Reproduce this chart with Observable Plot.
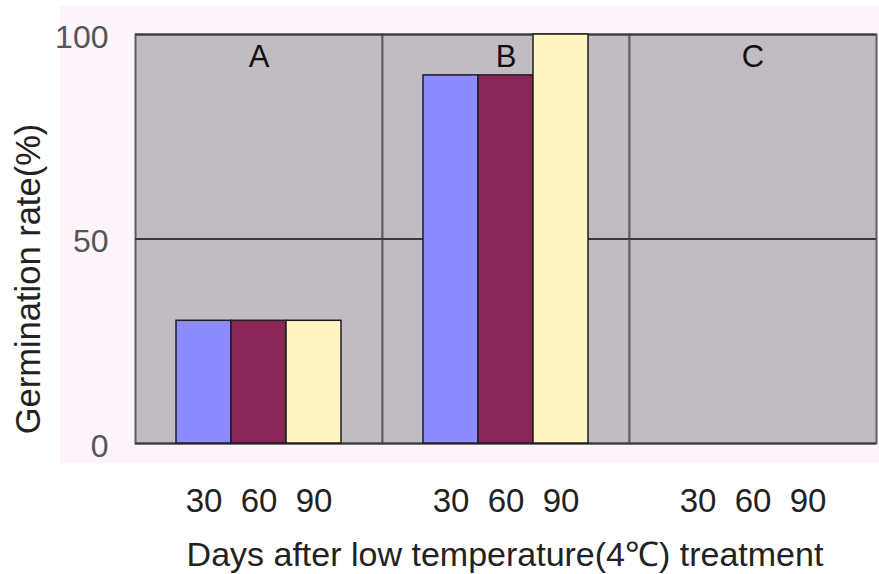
<!DOCTYPE html>
<html>
<head>
<meta charset="utf-8">
<script src="https://cdn.jsdelivr.net/npm/d3@7"></script>
<script src="https://cdn.jsdelivr.net/npm/@observablehq/plot@0.6"></script>
<style>
  html, body { margin: 0; padding: 0; background: #ffffff; }
  #wrap { position: relative; width: 879px; height: 574px; overflow: hidden; font-family: "Liberation Sans", Arial, sans-serif; }
  #bg { position: absolute; left: 60px; top: 6px; width: 819px; height: 457px; background: #fdf4fc; }
  #chart { position: absolute; left: 0; top: 0; }
  #ylab { position: absolute; left: 28px; top: 279px; transform: translate(-50%, -50%) rotate(-90deg); white-space: nowrap; font-size: 34.5px; color: #222; }
  #xlab { position: absolute; left: 505px; top: 553px; transform: translate(-50%, -50%); white-space: nowrap; font-size: 34px; color: #222; }
</style>
</head>
<body>
<div id="wrap">
  <div id="bg"></div>
  <div id="chart"></div>
  <div id="ylab">Germination rate(%)</div>
  <div id="xlab">Days after low temperature(4℃) treatment</div>
</div>
<script>
const groups = ["A", "B", "C"];
const days = ["30", "60", "90"];
const valuesA = [30, 30, 30];
const valuesB = [90, 90, 100];
const valuesC = [0, 0, 0];
const yTicks = [0, 50, 100];
const dayColors = ["#8c8cff", "#8b2658", "#fff6c2"];

const seriesByGroup = {A: valuesA, B: valuesB, C: valuesC};
const rows = [];
for (const g of groups) {
  seriesByGroup[g].forEach((v, i) => rows.push({group: g, day: days[i], value: v}));
}

const chart = Plot.plot({
  width: 879,
  height: 574,
  marginLeft: 135,
  marginRight: 3,
  marginTop: 34,
  marginBottom: 131,
  style: {background: "transparent", fontFamily: "'Liberation Sans', Arial, sans-serif", overflow: "visible"},
  fx: {domain: groups, padding: 0, axis: null, label: null},
  x: {domain: days, paddingInner: 0, paddingOuter: 0.72, label: null},
  y: {domain: [0, 100], label: null},
  color: {domain: days, range: dayColors},
  marks: [
    Plot.frame({fill: "#c0bcc2", stroke: "#5f5f5f", strokeWidth: 2}),
    Plot.gridY(yTicks, {stroke: "#3a3a3a", strokeOpacity: 1, strokeWidth: 2}),
    Plot.barY(rows, {fx: "group", x: "day", y: "value", fill: "day", stroke: "#1e1e1e", strokeWidth: 1.5}),
    Plot.text(groups, {fx: d => d, text: d => d, frameAnchor: "top", lineAnchor: "top", dy: 10, fontSize: 31, fill: "#111"}),
    Plot.axisX({tickSize: 0, tickPadding: 45, fontSize: 33, fill: "#222", label: null}),
    Plot.axisY(yTicks, {tickSize: 0, tickPadding: 27, fontSize: 32, dy: 3, fill: "#555", label: null})
  ]
});
document.getElementById("chart").appendChild(chart);
</script>
</body>
</html>
